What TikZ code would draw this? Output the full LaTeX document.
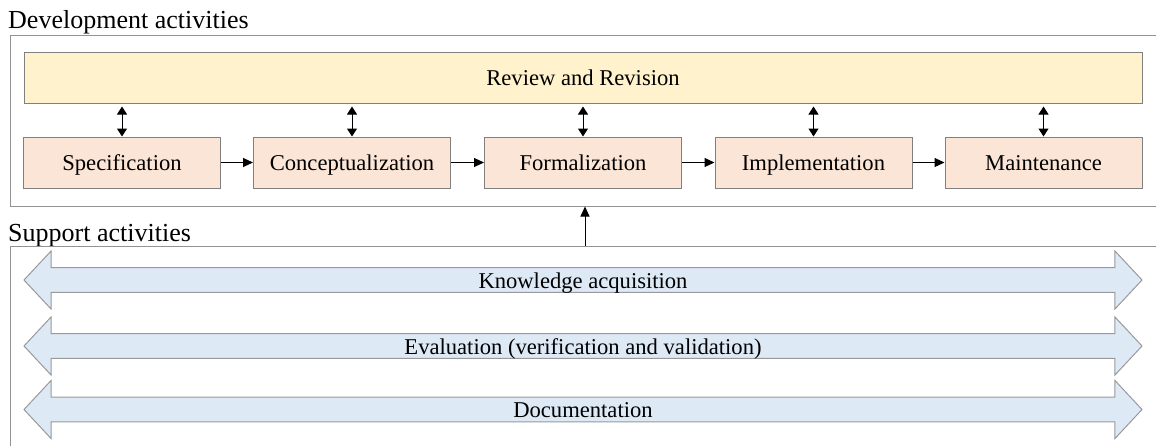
\documentclass[tikz,border=0pt]{standalone}
\usepackage{fontspec}
\setmainfont{Liberation Serif}
\usetikzlibrary{arrows.meta,shapes.arrows}
\definecolor{revfill}{RGB}{255,242,204}
\definecolor{stagefill}{RGB}{251,229,214}
\definecolor{suppfill}{RGB}{222,233,246}
\definecolor{edgegray}{RGB}{128,128,128}
\begin{document}
\begin{tikzpicture}[x=1pt,y=-1pt,
    frame/.style={draw=edgegray!85,line width=1pt,minimum width=1156pt},
    title/.style={anchor=base west,inner sep=0pt,font=\fontsize{26}{30}\selectfont},
    boxtext/.style={font=\fontsize{22.6}{27}\selectfont,text height=18pt,text depth=2pt,inner sep=0pt},
    review/.style={boxtext,draw=edgegray,fill=revfill,line width=1pt,minimum width=1118pt,minimum height=51pt},
    stage/.style={boxtext,draw=edgegray,fill=stagefill,line width=1pt,minimum width=197pt,minimum height=51pt},
    support/.style={boxtext,shape=double arrow,draw=edgegray!80,fill=suppfill,line width=1pt,
      double arrow head extend=14pt,double arrow head indent=0pt,double arrow tip angle=94,
      minimum height=1118pt,minimum width=58pt}]
  \useasboundingbox (0,0) rectangle (1156,445);
  \draw
    (8,28) node[title] (devtitle) {Development activities}
    (588,120.5) node[frame,minimum height=171pt] (dev) {}
    (583,77.5) node[review] (review) {Review and Revision}
    (122,162.5) node[stage] (spec) {Specification}
    (352,162.5) node[stage] (concept) {Conceptualization}
    (583,162.5) node[stage] (formal) {Formalization}
    (813.5,162.5) node[stage] (impl) {Implementation}
    (1043.5,162.5) node[stage] (maint) {Maintenance};
  \draw
    (8,241) node[title] (supptitle) {Support activities}
    (588,356) node[frame,minimum height=220pt] (supp) {}
    (583,280) node[support] (acq) {Knowledge acquisition}
    (583,346) node[support] (eval) {Evaluation (verification and validation)}
    (583,409.5) node[support] (doc) {Documentation};
  \begin{scope}[line width=1pt,-{Triangle[length=10pt,width=9pt]}]
    \draw (spec) to (concept);
    \draw (concept) to (formal);
    \draw (formal) to (impl);
    \draw (impl) to (maint);
    \draw (supp.north -| 585,0) to (dev.south -| 585,0);
  \end{scope}
  \begin{scope}[line width=1pt,shorten <=3pt,{Triangle[length=8pt,width=10pt]}-{Triangle[length=8pt,width=10pt]}]
    \draw (review.south -| spec) to (spec.north);
    \draw (review.south -| concept) to (concept.north);
    \draw (review.south -| formal) to (formal.north);
    \draw (review.south -| impl) to (impl.north);
    \draw (review.south -| maint) to (maint.north);
  \end{scope}
\end{tikzpicture}
\end{document}
